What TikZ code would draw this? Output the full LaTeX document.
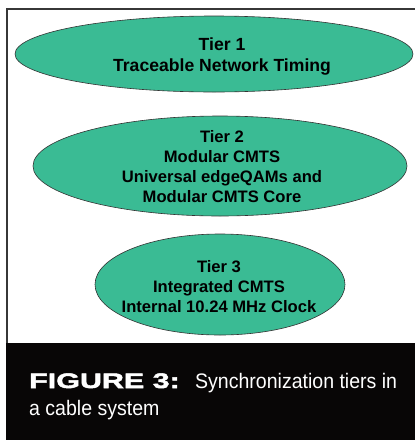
\documentclass[tikz,border=0pt]{standalone}
\usepackage{fontspec}
\setmainfont{Liberation Sans}
\newfontfamily\tierfont{Liberation Sans}
\newfontfamily\capnarrow[FakeStretch=0.93]{Liberation Sans}
\newfontfamily\capwide[FakeStretch=1.45,FakeBold=2.4]{Liberation Sans Bold}
\usetikzlibrary{shapes.geometric}
\definecolor{tiergreen}{RGB}{58,187,148}
\definecolor{framegray}{RGB}{55,55,55}
\definecolor{bandblack}{RGB}{8,6,6}
\tikzset{
  tier/.style={ellipse, draw=black!80, line width=0.6pt, fill=tiergreen,
    inner sep=0pt},
  tiertext/.style={inner sep=0pt, align=center,
    font=\tierfont\bfseries\fontsize{16.6}{20}\selectfont},
  captext/.style={anchor=base west, inner sep=0pt, text=white},
}
\begin{document}
\begin{tikzpicture}[x=1pt,y=-1pt]
\useasboundingbox (0,0) rectangle (415,440);
% outer frame and caption band
\fill[white] (0,0) rectangle (415,440);
\draw[framegray, line width=2pt] (7,440) -- (7,9) -- (416,9);
\fill[bandblack] (6,343) rectangle (416,441);

% the three tiers
\node[tier, minimum width=398pt, minimum height=76pt] (t1) at (214,54) {};
\node[tiertext, font=\tierfont\bfseries\fontsize{17.6}{21}\selectfont]
  (l1) at (222,56) {Tier 1\\ Traceable Network Timing};
\node[tier, minimum width=374pt, minimum height=100pt] (t2) at (220,166) {};
\node[tiertext] (l2) at (222,167)
  {Tier 2\\ Modular CMTS\\ Universal edgeQAMs and\\ Modular CMTS Core};
\node[tier, minimum width=250pt, minimum height=101pt] (t3) at (220,284.5) {};
\node[tiertext] (l3) at (219,287)
  {Tier 3\\ Integrated CMTS\\ Internal 10.24 MHz Clock};

% caption
\node[captext, font=\capwide\fontsize{21}{24}\selectfont] (fig) at (29,388)
  {FIGURE 3:};
\node[captext, font=\capnarrow\fontsize{21}{24}\selectfont] (cap1) at (195,388)
  {Synchronization tiers in};
\node[captext, font=\capnarrow\fontsize{21}{24}\selectfont] (cap2) at (29,415)
  {a cable system};
\end{tikzpicture}
\end{document}
